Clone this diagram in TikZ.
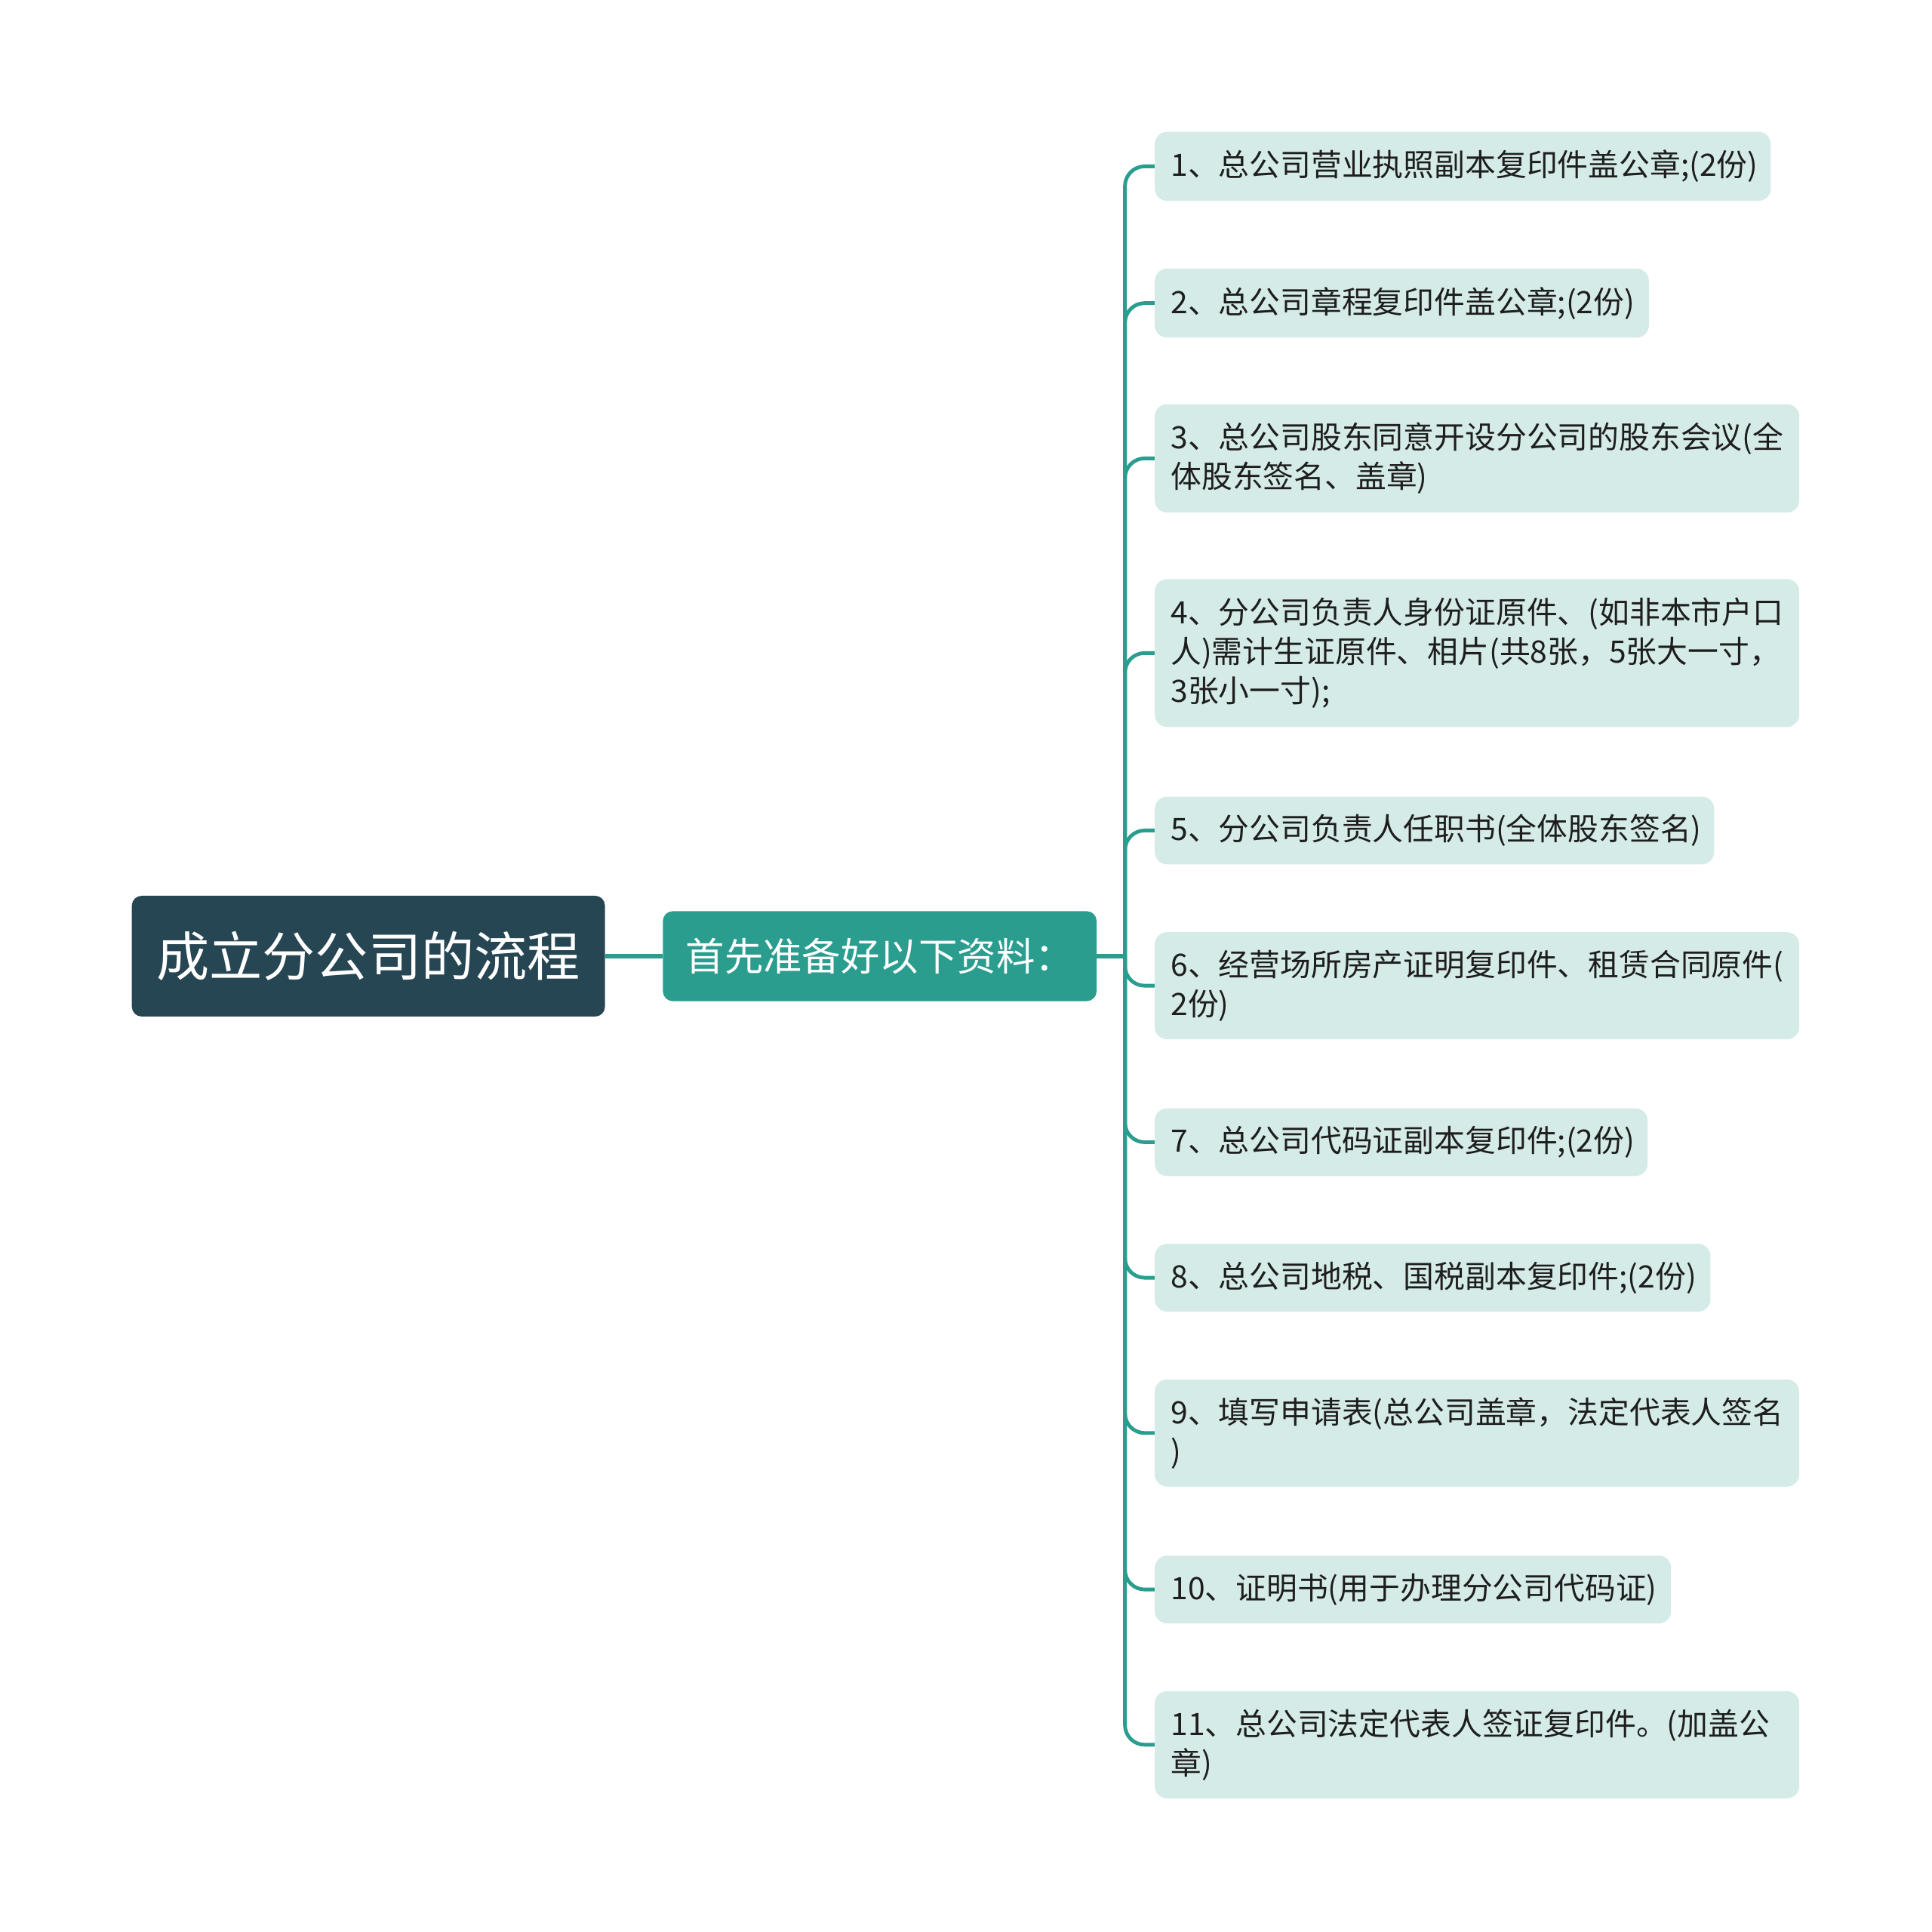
\documentclass[tikz,border=0pt]{standalone}
\usepackage{fontspec}
\setmainfont{Noto Sans CJK SC}
\definecolor{rootbg}{HTML}{264653}
\definecolor{linkteal}{HTML}{2A9D8F}
\definecolor{leafbg}{HTML}{D5EBE8}
\definecolor{leaftext}{HTML}{1E1E1E}
\tikzset{
  rootbox/.style={fill=rootbg, rounded corners=8pt, text=white, minimum width=384pt, minimum height=98pt, inner sep=0pt, font=\fontsize{43}{50}\selectfont},
  firstbox/.style={fill=linkteal, rounded corners=8pt, text=white, minimum width=352pt, minimum height=73pt, inner sep=0pt, font=\fontsize{31.5}{36}\selectfont},
  leaf/.style={fill=leafbg, rounded corners=10pt, anchor=west, align=left, inner xsep=13pt, inner ysep=0pt, text=leaftext, font=\fontsize{25}{32}\selectfont},
  link/.style={draw=linkteal, line width=3pt, rounded corners=16pt},
}
\begin{document}
\begin{tikzpicture}[x=1pt, y=1pt]
  \useasboundingbox (0,0) rectangle (1568,-1568);
  \node[rootbox] (root) at (299,-776) {成立分公司的流程};
  \node[firstbox] (prep) at (714,-776) {首先准备好以下资料：};
  \coordinate (hub) at (913,-776);
  \node[leaf, text width=474pt, minimum height=56pt] (l1) at (937,-135) {1、总公司营业执照副本复印件盖公章;(2份)};
  \node[leaf, text width=375pt, minimum height=56pt] (l2) at (937,-246) {2、总公司章程复印件盖公章;(2份)};
  \node[leaf, text width=497pt, minimum height=88pt] (l3) at (937,-372) {3、总公司股东同意开设分公司的股东会议(全\\体股东签名、盖章)};
  \node[leaf, text width=497pt, minimum height=120pt] (l4) at (937,-530) {4、分公司负责人身份证原件、(如非本市户口\\人)需计生证原件、相片(共8张，5张大一寸，\\3张小一寸);};
  \node[leaf, text width=428pt, minimum height=55pt] (l5) at (937,-674) {5、分公司负责人任职书(全体股东签名)};
  \node[leaf, text width=497pt, minimum height=87pt] (l6) at (937,-800) {6、经营场所房产证明复印件、租赁合同原件(\\2份)};
  \node[leaf, text width=374pt, minimum height=55pt] (l7) at (937,-927) {7、总公司代码证副本复印件;(2份)};
  \node[leaf, text width=425pt, minimum height=55pt] (l8) at (937,-1037) {8、总公司地税、国税副本复印件;(2份)};
  \node[leaf, text width=497pt, minimum height=87pt] (l9) at (937,-1163) {9、填写申请表(总公司盖章，法定代表人签名\\)};
  \node[leaf, text width=393pt, minimum height=55pt] (l10) at (937,-1290) {10、证明书(用于办理分公司代码证)};
  \node[leaf, text width=497pt, minimum height=87pt] (l11) at (937,-1416) {11、总公司法定代表人签证复印件。(加盖公\\章)};
  \draw[link, line width=4pt] (root.east) -- (prep.west);
  \draw[link, line width=4pt] (prep.east) -- (hub);
  \draw[link] (hub) |- (l1.west);
  \draw[link] (hub) |- (l2.west);
  \draw[link] (hub) |- (l3.west);
  \draw[link] (hub) |- (l4.west);
  \draw[link] (hub) |- (l5.west);
  \draw[link] (hub) |- (l6.west);
  \draw[link] (hub) |- (l7.west);
  \draw[link] (hub) |- (l8.west);
  \draw[link] (hub) |- (l9.west);
  \draw[link] (hub) |- (l10.west);
  \draw[link] (hub) |- (l11.west);
\end{tikzpicture}
\end{document}
